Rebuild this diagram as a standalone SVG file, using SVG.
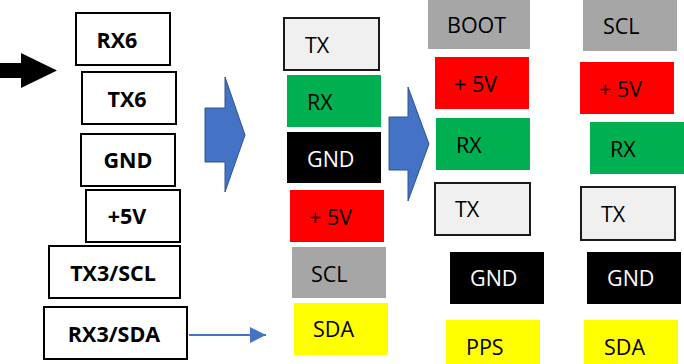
<svg xmlns="http://www.w3.org/2000/svg" width="684" height="364" viewBox="0 0 684 364">
  <style>
    .pin { fill: #ffffff; stroke: #000000; stroke-width: 2; }
    .pinlbl { font-family: "Open Sans", "DejaVu Sans", sans-serif; font-weight: bold; font-size: 21.5px; fill: #000000; text-anchor: middle; }
    .lbl { font-family: "Open Sans", "Liberation Sans", sans-serif; font-size: 21.5px; fill: #000000; }
    .wlbl { font-family: "Open Sans", "Liberation Sans", sans-serif; font-size: 21.5px; fill: #ffffff; }
    .tx { fill: #f0f0f0; stroke: #1a1a1a; stroke-width: 2; }
    .rx { fill: #00b050; }
    .gnd { fill: #000000; }
    .v5 { fill: #ff0000; }
    .grey { fill: #a6a6a6; }
    .yel { fill: #ffff00; }
    .block { fill: #4472c4; stroke: #2f528f; stroke-width: 1; }
  </style>
  <defs>
    <marker id="blueHead" markerWidth="16" markerHeight="16" refX="16" refY="8" orient="auto" markerUnits="userSpaceOnUse">
      <path d="M0,0 L16,8 L0,16 Z" fill="#4472c4"/>
    </marker>
  </defs>

  <!-- board header pins -->
  <g id="pin-rx6"><rect class="pin" x="76" y="13" width="94" height="52"/><text class="pinlbl" x="117" y="48">RX6</text></g>
  <g id="pin-tx6"><rect class="pin" x="82" y="72" width="94" height="52"/><text class="pinlbl" x="127" y="107">TX6</text></g>
  <g id="pin-gnd"><rect class="pin" x="81" y="134" width="94" height="52"/><text class="pinlbl" x="128" y="168">GND</text></g>
  <g id="pin-5v"><rect class="pin" x="86" y="190" width="94" height="52"/><text class="pinlbl" x="127" y="224">+5V</text></g>
  <g id="pin-tx3"><rect class="pin" x="49" y="246" width="131" height="52"/><text class="pinlbl" x="113" y="281">TX3/SCL</text></g>
  <g id="pin-rx3"><rect class="pin" x="44" y="307" width="143" height="52"/><text class="pinlbl" x="114" y="342">RX3/SDA</text></g>

  <!-- cable colours -->
  <g id="wire-tx"><rect class="tx" x="284" y="18" width="95" height="52"/><text class="lbl" x="305" y="53">TX</text></g>
  <g id="wire-rx"><rect class="rx" x="287" y="75" width="94" height="52"/><text class="lbl" x="307" y="110">RX</text></g>
  <g id="wire-gnd"><rect class="gnd" x="287" y="132" width="94" height="51"/><text class="wlbl" x="307" y="167">GND</text></g>
  <g id="wire-5v"><rect class="v5" x="290" y="190" width="94" height="52"/><text class="lbl" x="309" y="225">+ 5V</text></g>
  <g id="wire-scl"><rect class="grey" x="292" y="247" width="94" height="51"/><text class="lbl" x="311" y="282">SCL</text></g>
  <g id="wire-sda"><rect class="yel" x="294" y="303" width="94" height="52"/><text class="lbl" x="313" y="337">SDA</text></g>

  <!-- GPS connector -->
  <g id="gps-boot"><rect class="grey" x="428" y="0" width="102" height="49"/><text class="lbl" x="447" y="33">BOOT</text></g>
  <g id="gps-5v"><rect class="v5" x="435" y="57" width="94" height="52"/><text class="lbl" x="454" y="92">+ 5V</text></g>
  <g id="gps-rx"><rect class="rx" x="436" y="118" width="94" height="52"/><text class="lbl" x="456" y="153">RX</text></g>
  <g id="gps-tx"><rect class="tx" x="435" y="183" width="95" height="52"/><text class="lbl" x="455" y="217">TX</text></g>
  <g id="gps-gnd"><rect class="gnd" x="450" y="252" width="94" height="52"/><text class="wlbl" x="470" y="286">GND</text></g>
  <g id="gps-pps"><rect class="yel" x="446" y="320" width="94" height="44"/><text class="lbl" x="466" y="355">PPS</text></g>

  <!-- compass connector -->
  <g id="cmp-scl"><rect class="grey" x="583" y="0" width="94" height="51"/><text class="lbl" x="603" y="34">SCL</text></g>
  <g id="cmp-5v"><rect class="v5" x="580" y="62" width="94" height="52"/><text class="lbl" x="599" y="97">+ 5V</text></g>
  <g id="cmp-rx"><rect class="rx" x="590" y="122" width="94" height="52"/><text class="lbl" x="610" y="157">RX</text></g>
  <g id="cmp-tx"><rect class="tx" x="581" y="187" width="94" height="53"/><text class="lbl" x="601" y="222">TX</text></g>
  <g id="cmp-gnd"><rect class="gnd" x="587" y="252" width="94" height="52"/><text class="wlbl" x="607" y="286">GND</text></g>
  <g id="cmp-sda"><rect class="yel" x="584" y="320" width="94" height="44"/><text class="lbl" x="604" y="355">SDA</text></g>

  <!-- arrows -->
  <g id="connectors">
    <polygon points="0,63 21,63 21,53 57,70.5 21,88 21,78 0,78" fill="#000000"/>
    <polygon class="block" points="205,108 225,108 225,77 245,135 225,192 225,162 205,162"/>
    <polygon class="block" points="389,117 408,117 408,87 429,144 408,201 408,170 389,170"/>
    <line x1="189" y1="335" x2="266" y2="335" stroke="#4472c4" stroke-width="2" marker-end="url(#blueHead)"/>
  </g>
</svg>
